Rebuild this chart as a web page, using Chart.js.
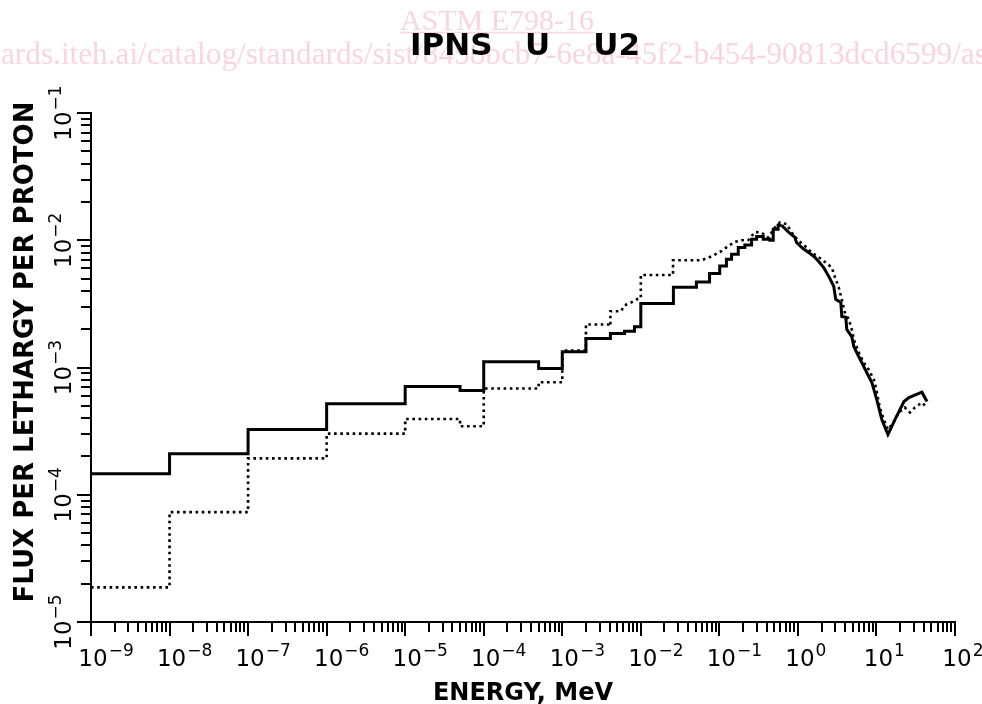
<!DOCTYPE html>
<html>
<head>
<meta charset="utf-8">
<script src="https://cdn.jsdelivr.net/npm/chart.js@4.4.1/dist/chart.umd.min.js"></script>
<style>
  html, body { margin: 0; padding: 0; background: #fff; }
</style>
</head>
<body>
<canvas id="fluxChart" width="982" height="704"></canvas>
<script>
// coarse group structure (bin edges in MeV) and flux per lethargy
const solidEdges = [1e-9, 1e-8, 1e-7, 1e-6, 1e-5, 5e-5, 1e-4, 5e-4, 1e-3, 2e-3, 4.1e-3, 6.2e-3, 8.3e-3, 1e-2,
  2.6e-2, 5.1e-2, 7.5e-2, 0.101, 0.123, 0.143, 0.174, 0.211, 0.257, 0.298, 0.362, 0.44, 0.485, 0.56, 0.62];
const solidValues = [1.46e-4, 2.1e-4, 3.25e-4, 5.2e-4, 7.1e-4, 6.6e-4, 1.11e-3, 9.8e-4, 1.33e-3, 1.69e-3, 1.85e-3,
  1.93e-3, 2.09e-3, 3.19e-3, 4.28e-3, 4.7e-3, 5.47e-3, 6.28e-3, 7.08e-3, 7.76e-3, 8.77e-3, 9.19e-3, 1.02e-2,
  1.07e-2, 1.02e-2, 1.0e-2, 1.22e-2, 1.31e-2];

// fine structure above the peak
const solidTailEnergy = [0.62, 0.76, 0.91, 0.96, 1.15, 1.37, 1.59, 1.84, 2.13, 2.47, 2.86, 3.03, 3.52, 3.62, 4.07,
  4.19, 4.85, 5.15, 5.79, 6.52, 7.55, 8.74, 10.1, 11.7, 14.0, 17.2, 22.4, 25.9, 37.9, 44];
const solidTailFlux = [1.31e-2, 1.16e-2, 1.06e-2, 9.6e-3, 8.65e-3, 8.0e-3, 7.5e-3, 6.8e-3, 6.1e-3, 5.2e-3, 4.35e-3,
  3.43e-3, 3.25e-3, 2.52e-3, 2.48e-3, 1.99e-3, 1.75e-3, 1.46e-3, 1.26e-3, 1.09e-3, 9.1e-4, 7.6e-4, 5.6e-4, 3.9e-4,
  2.97e-4, 3.9e-4, 5.4e-4, 5.8e-4, 6.4e-4, 5.4e-4];

const dottedEdges = [1e-9, 1e-8, 1e-7, 1e-6, 1e-5, 5e-5, 1e-4, 5e-4, 1e-3, 2e-3, 4.1e-3];
const dottedValues = [1.87e-5, 7.3e-5, 1.93e-4, 3.02e-4, 3.94e-4, 3.45e-4, 6.84e-4, 7.65e-4, 1.36e-3, 2.18e-3];

const dottedTailEnergy = [4.1e-3, 4.1e-3, 5.6e-3, 6.2e-3, 7.2e-3, 9.2e-3, 1.0e-2, 1.0e-2, 2.57e-2, 2.57e-2, 5.9e-2,
  7.9e-2, 0.106, 0.129, 0.157, 0.191, 0.233, 0.283, 0.344, 0.419, 0.51, 0.59, 0.72, 0.83, 1.0, 1.23, 1.5, 2.0, 2.7,
  2.94, 3.31, 3.62, 3.95, 4.45, 4.85, 5.3, 5.96, 6.9, 8.0, 9.3, 10.1, 11.0, 12.4, 14.0, 16.7, 19.3, 23.0, 26.7,
  30.9, 37.9, 44];
const dottedTailFlux = [2.18e-3, 2.77e-3, 2.77e-3, 3.08e-3, 3.19e-3, 3.47e-3, 3.5e-3, 5.33e-3, 5.33e-3, 6.96e-3,
  6.96e-3, 7.45e-3, 8.2e-3, 9.0e-3, 9.7e-3, 1.0e-2, 1.0e-2, 1.16e-2, 1.15e-2, 1.05e-2, 1.26e-2, 1.38e-2, 1.34e-2,
  1.15e-2, 1.0e-2, 9.0e-3, 8.0e-3, 7.1e-3, 6.1e-3, 5.2e-3, 4.27e-3, 3.43e-3, 2.71e-3, 2.39e-3, 1.99e-3, 1.57e-3,
  1.31e-3, 1.09e-3, 9.6e-4, 8.0e-4, 6.4e-4, 4.9e-4, 3.9e-4, 3.25e-4, 3.76e-4, 4.43e-4, 4.85e-4, 4.43e-4, 4.85e-4,
  5.3e-4, 4.85e-4];

// axis decades (powers of ten) and minor multipliers
const xDecades = [-9, -8, -7, -6, -5, -4, -3, -2, -1, 0, 1, 2];
const yDecades = [-5, -4, -3, -2, -1];
const minorSteps = [2, 3, 4, 5, 6, 7, 8, 9];

const chartTitle = "IPNS   U    U2";
const xTitle = "ENERGY, MeV";
const yTitle = "FLUX PER LETHARGY PER PROTON";
const stampTitle = "ASTM E798-16";
const stampUrl = "https://standards.iteh.ai/catalog/standards/sist/8458bcb7-6e8a-45f2-b454-90813dcd6599/astm-e798-16";

const ink = "#000000";
const stampColor = "#f9d6dd";
const baseFont = "'DejaVu Sans', Verdana, sans-serif";

function histogram(edges, values) {
  return edges.map((e, i) => ({ x: e, y: values[Math.min(i, values.length - 1)] }));
}

function pairs(xs, ys) {
  return xs.map((v, i) => ({ x: v, y: ys[i] }));
}

function expText(p) {
  return p < 0 ? "\u2212" + Math.abs(p) : String(p);
}

const stampPlugin = {
  id: "stamp",
  beforeDraw(chart) {
    const { ctx } = chart;
    ctx.save();
    ctx.fillStyle = stampColor;
    ctx.strokeStyle = stampColor;
    ctx.textBaseline = "alphabetic";
    ctx.font = "30px 'Liberation Serif', 'Times New Roman', serif";
    ctx.textAlign = "center";
    ctx.fillText(stampTitle, 497, 30);
    const w = ctx.measureText(stampTitle).width;
    ctx.lineWidth = 1.5;
    ctx.beginPath();
    ctx.moveTo(497 - w / 2, 32.5);
    ctx.lineTo(497 + w / 2, 32.5);
    ctx.stroke();

    // url line, cropped by the page edges
    ctx.textAlign = "left";
    const visible = "lards.iteh.ai/catalog/standards/sist/8458bcb7-6e8a-45f2-b454-90813dcd6599/as";
    const hidden = "https://stand";
    const vw = ctx.measureText(visible).width;
    const size = 30 * 995 / vw;
    ctx.font = `${size}px 'Liberation Serif', 'Times New Roman', serif`;
    const hw = ctx.measureText(hidden).width;
    ctx.fillText(stampUrl, -hw + 1, 64);
    ctx.restore();
  }
};

const axesPlugin = {
  id: "logAxes",
  beforeDatasetsDraw(chart) {
    const { ctx, chartArea: area, scales: { x, y } } = chart;
    const left = area.left, bottom = area.bottom;
    ctx.save();
    ctx.strokeStyle = ink;
    ctx.lineWidth = 2;
    ctx.lineCap = "butt";
    ctx.beginPath();
    ctx.moveTo(left, y.getPixelForValue(1e-1) - 1);
    ctx.lineTo(left, bottom);
    ctx.lineTo(x.getPixelForValue(1e2) + 1, bottom);
    ctx.stroke();

    ctx.beginPath();
    xDecades.forEach((p, i) => {
      const px = Math.round(x.getPixelForValue(Math.pow(10, p)));
      ctx.moveTo(px, bottom);
      ctx.lineTo(px, bottom + 14);
      if (i === xDecades.length - 1) return;
      minorSteps.forEach(m => {
        const mx = Math.round(x.getPixelForValue(m * Math.pow(10, p)));
        ctx.moveTo(mx, bottom);
        ctx.lineTo(mx, bottom + 10);
      });
    });
    yDecades.forEach((p, i) => {
      const py = Math.round(y.getPixelForValue(Math.pow(10, p)));
      ctx.moveTo(left, py);
      ctx.lineTo(left - 14, py);
      if (i === yDecades.length - 1) return;
      minorSteps.forEach(m => {
        const my = Math.round(y.getPixelForValue(m * Math.pow(10, p)));
        ctx.moveTo(left, my);
        ctx.lineTo(left - 10, my);
      });
    });
    ctx.stroke();
    ctx.restore();
  },
  afterDraw(chart) {
    const { ctx, scales: { x, y } } = chart;
    ctx.save();
    ctx.fillStyle = ink;
    ctx.textBaseline = "alphabetic";
    ctx.textAlign = "left";

    // x tick labels: "10" centred on the tick, exponent to the right
    xDecades.forEach(p => {
      const px = x.getPixelForValue(Math.pow(10, p));
      ctx.font = `23px ${baseFont}`;
      const w10 = ctx.measureText("10").width;
      const x0 = px - w10 / 2 + 2;
      ctx.fillText("10", x0, 666);
      ctx.font = `17px ${baseFont}`;
      ctx.fillText(expText(p), x0 + w10 + 1, 656);
    });

    // y tick labels, rotated
    yDecades.forEach(p => {
      const py = y.getPixelForValue(Math.pow(10, p));
      ctx.font = `23px ${baseFont}`;
      const w10 = ctx.measureText("10").width;
      ctx.font = `17px ${baseFont}`;
      const we = ctx.measureText(expText(p)).width;
      const total = w10 + 1 + we;
      ctx.save();
      ctx.translate(71, py + total / 2);
      ctx.rotate(-Math.PI / 2);
      ctx.font = `23px ${baseFont}`;
      ctx.fillText("10", 0, 0);
      ctx.font = `17px ${baseFont}`;
      ctx.fillText(expText(p), w10 + 1, -10);
      ctx.restore();
    });

    // titles
    ctx.textAlign = "center";
    ctx.font = `bold 31px ${baseFont}`;
    ctx.fillText(chartTitle, 525, 55);
    ctx.font = `bold 24px ${baseFont}`;
    ctx.fillText(xTitle, 523, 700);
    ctx.save();
    ctx.translate(33, 352);
    ctx.rotate(-Math.PI / 2);
    ctx.font = `bold 26px ${baseFont}`;
    ctx.fillText(yTitle, 0, 0);
    ctx.restore();
    ctx.restore();
  }
};

const solidStyle = { borderColor: ink, borderWidth: 3, pointRadius: 0, fill: false, tension: 0, borderJoinStyle: "miter" };
const dottedStyle = { borderColor: ink, borderWidth: 2.6, borderDash: [2.6, 3.6], pointRadius: 0, fill: false, tension: 0 };

new Chart(document.getElementById("fluxChart").getContext("2d"), {
  type: "line",
  data: {
    datasets: [
      { ...dottedStyle, label: "dotted groups", data: histogram(dottedEdges, dottedValues), stepped: "before" },
      { ...dottedStyle, label: "dotted fine", data: pairs(dottedTailEnergy, dottedTailFlux) },
      { ...solidStyle, label: "solid groups", data: histogram(solidEdges, solidValues), stepped: "before" },
      { ...solidStyle, label: "solid fine", data: pairs(solidTailEnergy, solidTailFlux) }
    ]
  },
  plugins: [stampPlugin, axesPlugin],
  options: {
    responsive: false,
    animation: false,
    layout: { padding: { left: 91, right: 27, top: 113, bottom: 82 } },
    plugins: {
      legend: { display: false },
      tooltip: { enabled: false },
      title: { display: false }
    },
    scales: {
      x: { type: "logarithmic", min: 1e-9, max: 1e2, display: false },
      y: { type: "logarithmic", min: 1e-5, max: 1e-1, display: false }
    }
  }
});
</script>
</body>
</html>
